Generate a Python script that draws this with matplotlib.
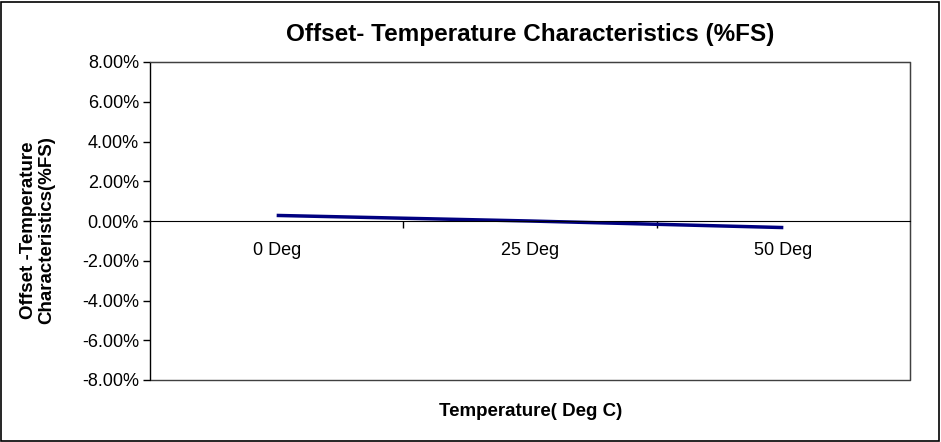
import matplotlib.pyplot as plt
from matplotlib.patches import Rectangle
from matplotlib.ticker import FixedLocator, FuncFormatter

plt.rcParams['font.family'] = ['Liberation Sans', 'DejaVu Sans']

# data
categories = ['0 Deg', '25 Deg', '50 Deg']
offset_pct = [0.28, 0.0, -0.33]
y_ticks = [-8, -6, -4, -2, 0, 2, 4, 6, 8]

fig = plt.figure(figsize=(9.41, 4.42), dpi=100)
ax = fig.add_axes([150 / 941, 1 - 380 / 442, 760 / 941, 318 / 442])

x = list(range(len(categories)))
ax.plot(x, offset_pct, color='#000080', linewidth=2.5, solid_capstyle='butt')

ax.set_xlim(-0.5, len(categories) - 0.5)
ax.set_ylim(-8, 8)

# y axis
ax.set_yticks(y_ticks)
ax.yaxis.set_major_formatter(FuncFormatter(lambda v, p: f"{v:.2f}%"))
ax.tick_params(axis='y', direction='out', length=5, width=1, labelsize=13, pad=3, colors='black')

# x axis sits at zero, ticks between categories, labels at category centres
ax.spines['bottom'].set_position(('data', 0))
ax.spines['bottom'].set_color('black')
ax.xaxis.set_major_locator(FixedLocator([0.5, 1.5]))
ax.xaxis.set_major_formatter(FuncFormatter(lambda v, p: ''))
ax.xaxis.set_minor_locator(FixedLocator(x))
ax.xaxis.set_minor_formatter(FuncFormatter(lambda v, p: categories[int(round(v))]))
ax.tick_params(axis='x', which='major', direction='out', length=5, width=1)
ax.tick_params(axis='x', which='minor', length=0, labelsize=13, pad=15)

for s in ['top', 'right']:
    ax.spines[s].set_color('#404040')
ax.spines['left'].set_color('black')
ax.add_patch(Rectangle((0, 0), 1, 1, transform=ax.transAxes, fill=False,
                       edgecolor='#404040', linewidth=1, clip_on=False, zorder=0))

fig.text(530 / 941, 1 - 35 / 442, 'Offset- Temperature Characteristics (%FS)',
         ha='center', va='center', fontsize=17.5, fontweight='bold')
fig.text(531 / 941, 1 - 411 / 442, 'Temperature( Deg C)',
         ha='center', va='center', fontsize=13.5, fontweight='bold')
fig.text(38 / 941, 1 - 230 / 442, 'Offset -Temperature\nCharacteristics(%FS)',
         ha='center', va='center', rotation=90, fontsize=13.5, fontweight='bold',
         linespacing=1.1)

# outer chart border
fig.patches.append(Rectangle((1 / 941, 1 / 442), 938 / 941, 439 / 442, transform=fig.transFigure,
                             fill=False, edgecolor='black', linewidth=1.2))

fig.savefig('out.png', dpi=100)
